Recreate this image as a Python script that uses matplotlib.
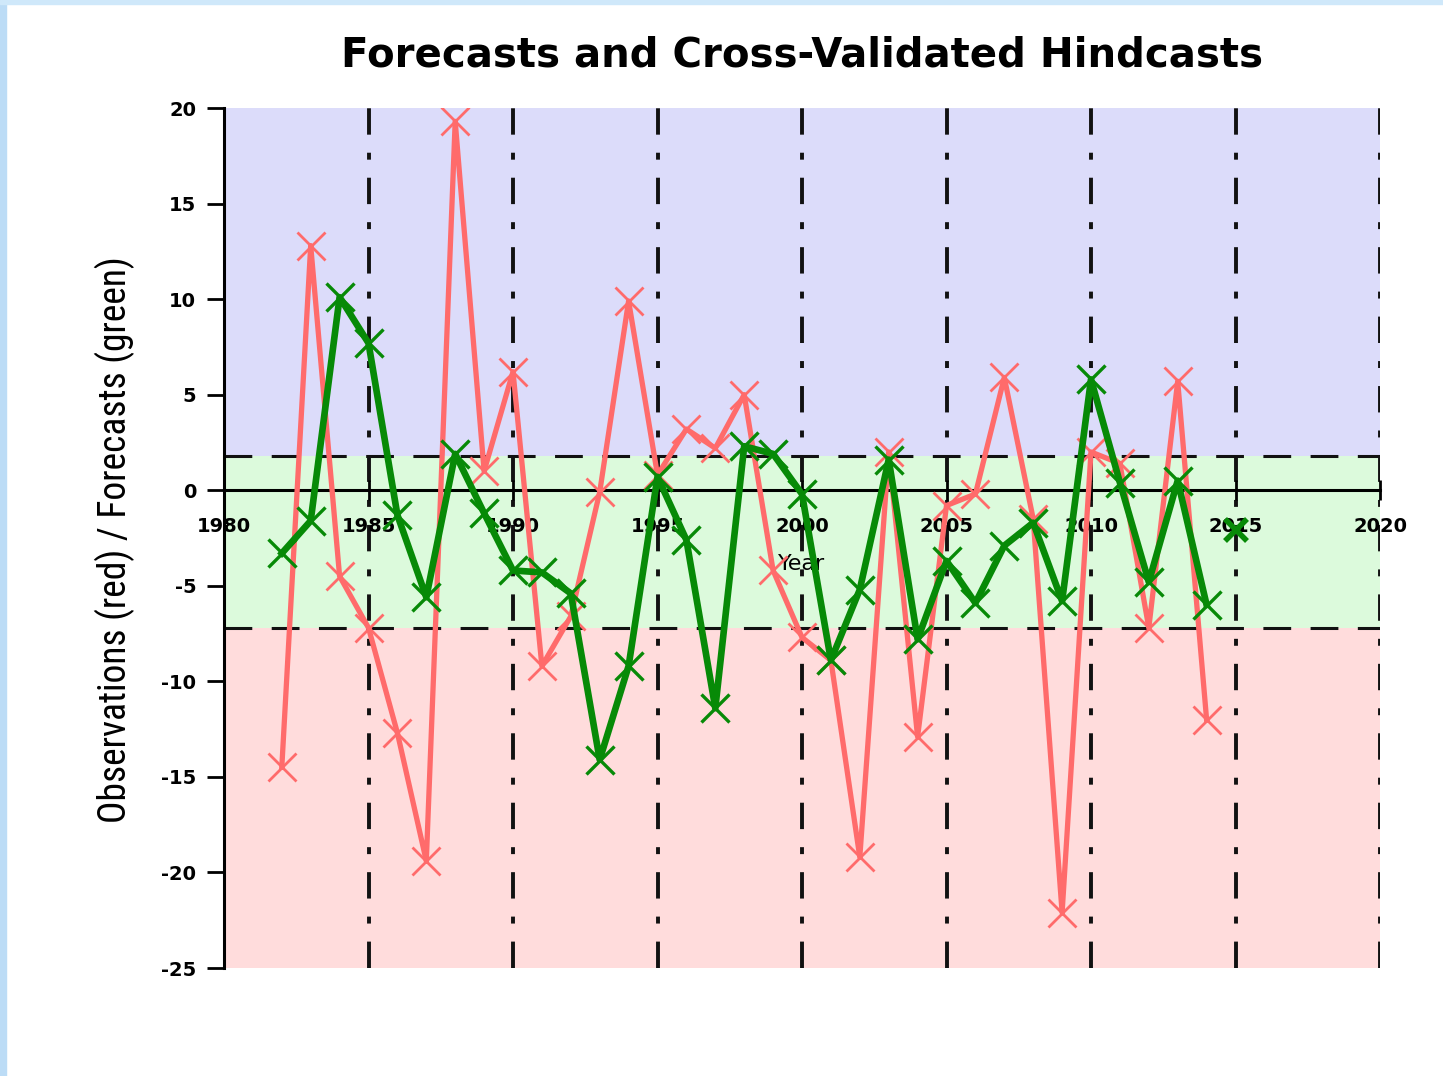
import matplotlib
matplotlib.use("Agg")
import matplotlib.pyplot as plt
from matplotlib import font_manager as fm
from matplotlib.patches import Rectangle

# ---- data ----
obs_years = list(range(1982, 2015))
observations = [-14.5, 12.8, -4.5, -7.2, -12.7, -19.4, 19.3, 1.0, 6.2, -9.2,
                -6.6, -0.1, 9.9, 0.8, 3.2, 2.2, 5.0, -4.2, -7.7, -8.9,
                -19.2, 2.0, -12.9, -0.8, -0.2, 5.9, -1.5, -22.1, 2.0, 1.4,
                -7.2, 5.7, -12.0]
fc_years = list(range(1982, 2015))
forecasts = [-3.3, -1.6, 10.1, 7.7, -1.3, -5.6, 1.9, -1.2, -4.2, -4.3,
             -5.4, -14.1, -9.2, 0.7, -2.6, -11.4, 2.3, 1.9, -0.2, -8.9,
             -5.2, 1.6, -7.8, -3.7, -5.9, -2.9, -1.7, -5.8, 5.8, 0.4,
             -4.8, 0.5, -6.0]
new_forecast_year = [2015]
new_forecast = [-2.1]
upper_threshold = 1.8
lower_threshold = -7.2
x_ticks = [1980, 1985, 1990, 1995, 2000, 2005, 2010, 2015, 2020]
y_ticks = [20, 15, 10, 5, 0, -5, -10, -15, -20, -25]

plt.rcParams['lines.scale_dashes'] = False

installed = {f.name for f in fm.fontManager.ttflist}
narrow_family = None
for cand in ['Liberation Sans Narrow', 'Roboto Condensed', 'Open Sans Condensed',
             'DejaVu Sans Condensed', 'Noto Sans Condensed']:
    if cand in installed:
        narrow_family = cand
        break
has_dejavu_cond = any(f.name == 'DejaVu Sans' and 'condensed' in str(f.stretch)
                      for f in fm.fontManager.ttflist)

fig = plt.figure(figsize=(14.43, 10.76), dpi=100)
fig.patch.set_facecolor('white')
fig.patches.append(Rectangle((0, 0), 6 / 1443, 1, transform=fig.transFigure,
                             color='#bcdcf6', zorder=0))
fig.patches.append(Rectangle((0, 1 - 4 / 1076), 1, 4 / 1076, transform=fig.transFigure,
                             color='#cfe8fa', zorder=0))

ax = fig.add_axes([224 / 1443, 1 - 968 / 1076, (1380 - 224) / 1443, (968 - 108) / 1076])
ax.set_xlim(1980, 2020)
ax.set_ylim(-25, 20)

ax.axhspan(upper_threshold, 20, color='#dcdcfa', lw=0, zorder=0)
ax.axhspan(lower_threshold, upper_threshold, color='#dcfadc', lw=0, zorder=0)
ax.axhspan(-25, lower_threshold, color='#ffdcdc', lw=0, zorder=0)

for th in (upper_threshold, lower_threshold):
    ax.axhline(th, color='#111111', lw=2.2, dashes=(20, 14), zorder=1)

for xv in x_ticks[1:]:
    ax.axvline(xv, color='#111111', lw=2.8, dashes=(19, 13, 5, 13), zorder=1)

ax.plot(obs_years, observations, color='#ff6b6b', lw=3.8, marker='x',
        markersize=20, markeredgewidth=2.0, zorder=3)
ax.plot(fc_years, forecasts, color='#078a07', lw=4.8, marker='x',
        markersize=20, markeredgewidth=2.4, zorder=4)
ax.plot(new_forecast_year, new_forecast, color='#078a07', lw=0, marker='x',
        markersize=16, markeredgewidth=4, zorder=4)

for s in ('top', 'right'):
    ax.spines[s].set_visible(False)
ax.spines['bottom'].set_position(('data', 0))
ax.spines['bottom'].set_linewidth(2.2)
ax.spines['bottom'].set_zorder(2)
ax.spines['left'].set_linewidth(2.2)

tick_font = dict(family='DejaVu Sans', size=14, weight='bold')
ax.set_xticks(x_ticks)
ax.set_xticklabels([str(v) for v in x_ticks], fontdict=tick_font)
ax.set_yticks(y_ticks)
ax.set_yticklabels([str(v) for v in y_ticks], fontdict=tick_font)
ax.tick_params(axis='x', direction='inout', length=14, width=2, pad=12)
ax.tick_params(axis='y', direction='out', length=12, width=2, pad=8)

ax.set_xlabel('Year', family='DejaVu Sans', size=16, labelpad=13)

if narrow_family:
    ylab = ax.set_ylabel('Observations (red) / Forecasts (green)',
                         family=narrow_family, size=27)
elif has_dejavu_cond:
    ylab = ax.set_ylabel('Observations (red) / Forecasts (green)',
                         family='DejaVu Sans', stretch='condensed', size=27)
else:
    ylab = ax.set_ylabel('Observations (red) / Forecasts (green)',
                         family='Liberation Sans', size=27)
title = ax.set_title('Forecasts and Cross-Validated Hindcasts',
                     family='DejaVu Sans', weight='bold', size=26, pad=30)

# fit text lengths to the reference layout
fig.canvas.draw()
r = fig.canvas.get_renderer()
h = ylab.get_window_extent(r).height
ylab.set_fontsize(27 * 567 / h)
w = title.get_window_extent(r).width
title.set_fontsize(26 * 925 / w)
fig.canvas.draw()
wlab = ylab.get_window_extent(r).width
# centre of the y label at x ~ 115 px (anchor is the label's right edge)
ax.yaxis.set_label_coords((115 + wlab / 2 - 224) / (1380 - 224), (968 - 540) / 860)

fig.savefig('out.png', dpi=100)
